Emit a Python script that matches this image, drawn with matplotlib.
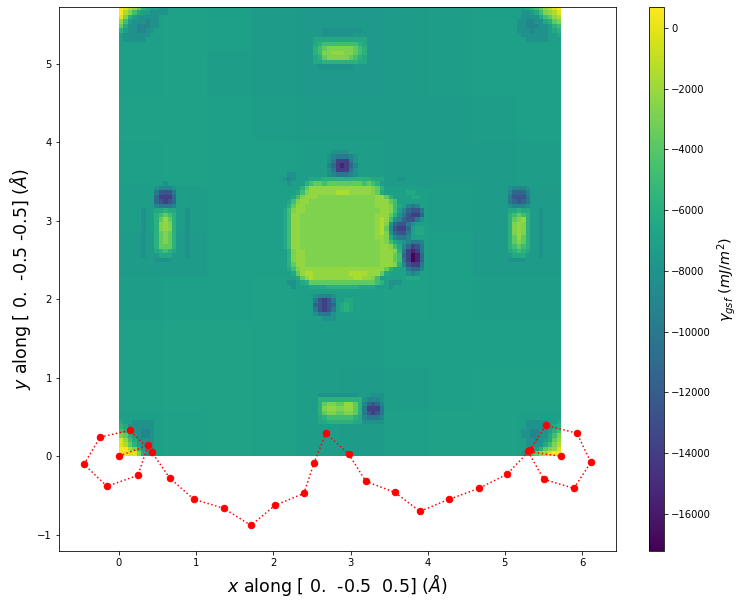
import numpy as np
import matplotlib

matplotlib.use("Agg")
import matplotlib.pyplot as plt

# Path of the red points, in angstrom
path_x = [0.000, 0.376, 0.246, -0.155, -0.453, -0.246, 0.142, 0.427, 0.661, 0.971,
          1.360, 1.710, 2.021, 2.396, 2.526, 2.681, 2.979, 3.199, 3.575, 3.899,
          4.275, 4.663, 5.026, 5.324, 5.531, 5.933, 6.114, 5.894, 5.505, 5.298, 5.725]
path_y = [0.000, 0.136, -0.246, -0.386, -0.106, 0.239, 0.328, 0.047, -0.284, -0.552,
          -0.667, -0.884, -0.629, -0.476, -0.093, 0.290, 0.022, -0.323, -0.463, -0.705,
          -0.552, -0.412, -0.233, 0.073, 0.392, 0.290, -0.080, -0.412, -0.297, 0.060, -0.004]

levels = {
    "A": -17000, "B": -15400, "C": -13800, "D": -12500, "E": -11200, "F": -10000,
    "G": -9000, "H": -8000, "I": -7200, "J": -6400, "K": -5700, "L": -4800,
    "M": -3700, "N": -2800, "O": -2200, "P": -1500, "Q": -200, "R": 600,
}

# Coarse background, in 100 mJ/m2, top row first
background = [
    [-71, -70, -71, -73, -75, -75, -73, -72, -71, -71],
    [-71, -70, -72, -74, -76, -76, -74, -72, -71, -71],
    [-70, -70, -71, -72, -73, -73, -73, -73, -72, -71],
    [-71, -70, -71, -71, -72, -72, -73, -73, -73, -72],
    [-72, -72, -71, -71, -71, -71, -71, -72, -73, -73],
    [-73, -73, -71, -71, -71, -71, -70, -71, -73, -73],
    [-72, -71, -71, -70, -71, -71, -70, -71, -72, -72],
    [-70, -69, -69, -70, -72, -72, -71, -71, -71, -71],
    [-70, -69, -69, -70, -72, -73, -72, -71, -70, -70],
    [-71, -70, -69, -70, -72, -74, -71, -70, -70, -71],
]

# Cell maps of the features, "." leaves the background as it is
center_map = [
    "..............HHHH",
    ".............HGFFFGH",
    ".............HFCCCFH",
    ".............GECBCEG",
    ".............HFCCCFH",
    "....HH.......HGFFFGH",
    "...HGH...JJJKKKKKKKKKKKJJJ...HH.",
    "....H...KLMMLMMMMMMMMLMLK",
    ".......KMOOOOOOOOOOOOOONMK",
    "......JLNOOOOOOPPPOOOOONMJ.....JJ",
    ".....JLNOOONNNNNNNNNNNNNOOMK....JJ",
    "....JLNOONNNNNNNNNNNNNNNOOOML",
    "....KMOONNNNNNNNNNNNNNNNOOONLJ.GFG",
    "...JLNOONNNNNNNNNNNNNNNNNOONLIGEDDF",
    "...JLOONNNNNNNNNNNNNNNNNOOOMKHFDCCE",
    "...JLOONNNNNNNNNNNNNNNNNOPOLHGEDDFH",
    "...JLOONNNNNNNNNNNNNNNNNOPNHEDDFH",
    "...JLOONNNNNNNNNNNNNNNNNOPMGDCCEIJJ",
    "...JLOONNNNNNNNNNNNNNNNNOPNHEDDFIJJ",
    "...JLOONNNNNNNNNNNNNNNNNOONJGFFG",
    "...JLOONNNNNNNNNNNNNNNNNNONLJIHGFFG",
    "...JLOONNNNNNNNNNNNNNNNNNOONLJGECDF",
    "....KNOONNNNNNNNNNNNNNNNNOOONKFCBCF",
    "....KNOONNNNNNNNNNNNNNNNNOOOMLECABE",
    "....KNOONNNNNNNNNNNNNNNNNOOOMLFCABE",
    "....KMOONNNNNNNNNNNNNNNNNOOONKGDCCF",
    "....JLNOOOOOOOOOOOOOOOOOOOMK...FEEG",
    ".....JMOPPOOOOOOOOPPPPOOOMJ....HGH",
    "......JMOPOOOOOOOOOPPOONLI.....JJJ",
    "....HH.JKMMMMMMMMMMMMMMMLK.HHH",
    ".....H...JJJJKKKKKKKJJJJ...H",
    "",
    "..........HGGGH",
    "..........FDCDF..JJ",
    "..........EDCDE.JKJ",
    "..........FDCDF.JKJ",
    "..........HFFFH",
    "............HHH",
]
left_map = [
    "",
    "",
    ".....H",
    "...HGGGH",
    "...FDDDF",
    "...ECCCE",
    "...EDCDE",
    "...GFFFG",
    "H..JJKJJ..H",
    "H..KLMLK..H",
    "H..KMOMK..H",
    "H..KNONK..H",
    "H..KNONK..H",
    "H..KMNMK..H",
    "H..KMNMK..H",
    "H..KMNMK..H",
    "H..KMMMK..H",
    "H..JKLKJ..H",
    "H...JJJ...H",
    "...HHHH",
]
right_map = [
    "",
    "",
    "",
    "...HGGGH",
    "...GEEEG",
    "...FDDDF",
    "...FEDEF",
    "...HGGGH",
    "...JJKJJ..H",
    "...KLMLK..H",
    "...KMNOK..H",
    "...KNONK..H",
    "...KNONK..H",
    "...KNONK..H",
    "...KMOMK..H",
    "...KMNMK..H",
    "...KLMLK..H",
    "...JKLKJ..H",
    "....JJJ...H",
    "...HHHH",
]
top_map = [
    "....HHHHHHHHH",
    "....HHHHHHH",
    "..JJJJJJJJJJJJ",
    "..JKLLLLLLLLKJ",
    "..KLMNNNNNNMLK",
    "..KLNNOOONNMLK",
    "..JKMNNNNNMLKJ",
    "..JJKKKKKKKKJJ",
    "...HHHHHHHH",
]
bottom_map = [
    "",
    "",
    "...HHHHHHHHH...HHH",
    "...KKKKKKKKKKHGGGH",
    "...KMNNMMOOMKGEDEG",
    "...KNOONNOOMKFCCCF",
    "...KMNNMMNNMKFDCDF",
    "...JKLLLLLLKJGFFFG",
    "...JJKKKKKKJJHHHHH",
]
top_left_map = [
    "RQPOMKJ..HH",
    "RPNLJIIHHHH",
    "QNKIHHHHH",
    "OLIHHHGHH",
    "MJHHGGGHH",
    "KIHHGGHH",
    "IHHHHHH",
    ".HHHHH",
]
top_right_map = [
    "....JKLMOPQR",
    "...HHIJLNOPQ",
    "...HHHHJLMOP",
    "..HHGGHHJKMN",
    "..HHGGGHHIKL",
    "..HHHGHHHIJK",
    "...HHHHHHIIJ",
    "....HHHHHIII",
]
bottom_left_map = [
    "J..HHHHH",
    "KJHHHHHH",
    "LKIHHGGH",
    "NMKIHGGH",
    "QOLJHHHH",
    "QPMKIHHH",
    "RRPNKIHH",
    "RRQQNJHH",
]
bottom_right_map = [
    "....HHHHH..J",
    "....HHHHHIJK",
    "...HHGGHHIKL",
    "...HHGGHHJLN",
    "....HHGHIJMO",
    "....HHHHJLNP",
    "....HHIKMNOQ",
    "...HJLMOPQRR",
]


def paint(grid, cell_map, row, col):
    """Write the levels of one feature map into the energy grid."""
    for i, line in enumerate(cell_map):
        for j, letter in enumerate(line):
            if letter != ".":
                grid[row + i, col + j] = levels[letter]


def main():
    # Build the 100x100 energy grid from the background and the feature maps
    grid = np.kron(np.array(background, dtype=float) * 100, np.ones((10, 10)))
    paint(grid, center_map, 32, 34)
    paint(grid, left_map, 37, 5)
    paint(grid, right_map, 37, 85)
    paint(grid, top_map, 5, 42)
    paint(grid, bottom_map, 84, 42)
    paint(grid, top_left_map, 0, 0)
    paint(grid, top_right_map, 0, 88)
    paint(grid, bottom_left_map, 92, 0)
    paint(grid, bottom_right_map, 92, 88)

    width, height = 743, 605
    fig = plt.figure(figsize=(width / 72, height / 72), dpi=72)
    ax = fig.add_axes([59 / width, 1 - 551 / height, 557 / width, 544 / height])
    cax = fig.add_axes([649 / width, 1 - 551 / height, 15 / width, 544 / height])

    # Energy surface with the path on top
    im = ax.imshow(grid, cmap="viridis", vmin=-17218, vmax=690, aspect="auto",
                   extent=(0, 5.725, 0, 5.725), interpolation="nearest")
    ax.plot(path_x, path_y, "o:", color="red", markersize=6.5)
    ax.set_xlim(-0.777, 6.44)
    ax.set_ylim(-1.21, 5.72)
    ax.set_xlabel(r"$x$ along [ 0.  -0.5  0.5] ($\AA$)", fontsize=17.4)
    ax.set_ylabel(r"$y$ along [ 0.  -0.5 -0.5] ($\AA$)", fontsize=17.4)

    cbar = fig.colorbar(im, cax=cax)
    cbar.set_label(r"$\gamma_{gsf}\ (mJ/m^2)$", fontsize=14.4)

    fig.savefig("out.png", dpi=72, facecolor="white")


if __name__ == "__main__":
    main()
